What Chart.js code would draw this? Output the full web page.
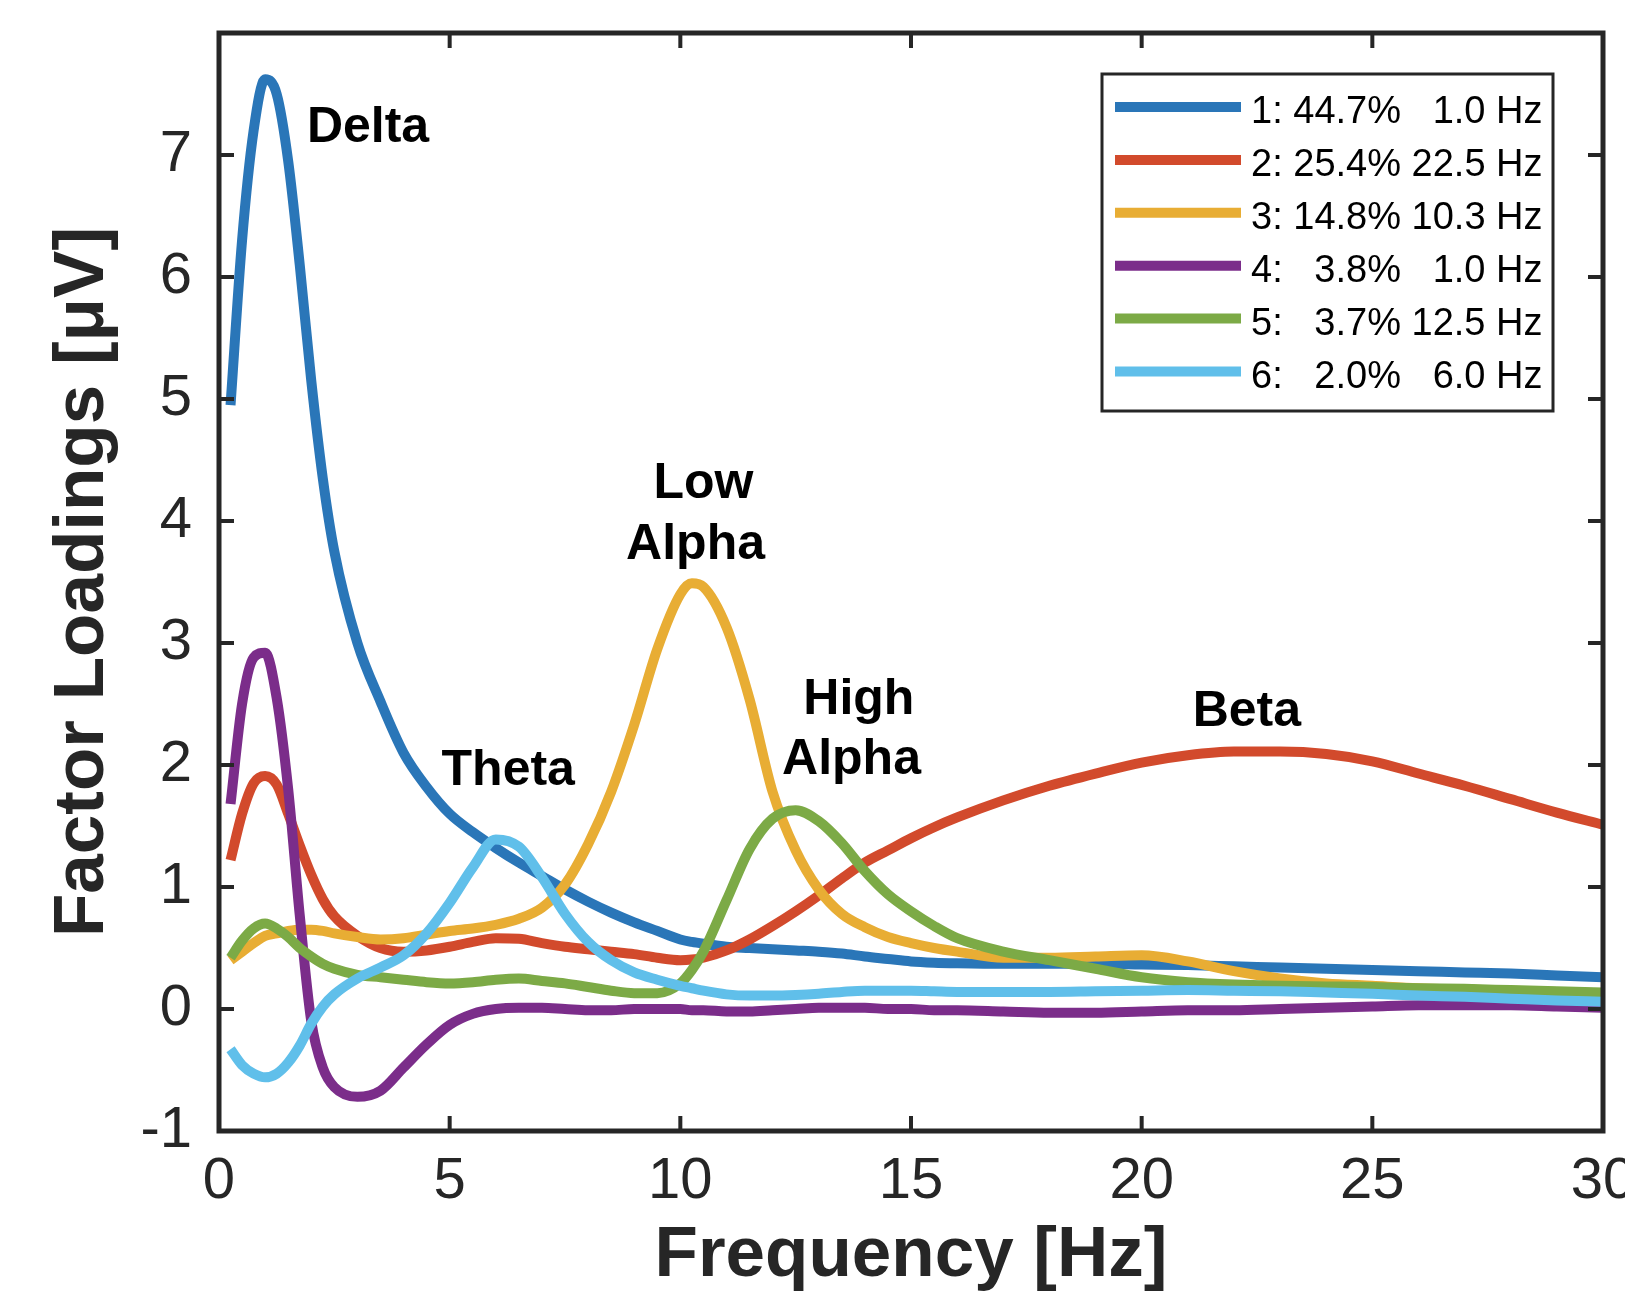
<!DOCTYPE html>
<html>
<head>
<meta charset="utf-8">
<script src="https://cdn.jsdelivr.net/npm/chart.js@4.4.0/dist/chart.umd.min.js"></script>
<style>
html, body { margin: 0; padding: 0; background: #fff; }
</style>
</head>
<body>
<canvas id="chart" width="1625" height="1304"></canvas>
<script>
// frequency grid (Hz), denser where the curves bend quickly
const freqs = [0.25, 0.5, 0.75, 1, 1.25, 1.5, 1.75, 2, 2.25, 2.5,
  3, 3.5, 4, 4.5, 5, 5.5, 6, 6.5, 7, 7.5, 8, 8.5, 9, 9.5, 10, 10.25,
  10.5, 11, 11.5, 12, 12.5, 13, 13.5, 14, 14.5, 15, 15.5, 16,
  17, 18, 19, 20, 21, 22, 23, 24, 25, 26, 27, 28, 29, 30]

const factor1 = [4.95, 6.3, 7.2, 7.62, 7.5, 6.95, 6.1, 5.15, 4.35, 3.75,
  3.0, 2.52, 2.1, 1.82, 1.6, 1.45, 1.32, 1.2, 1.09, 0.98, 0.88, 0.79, 0.71, 0.64, 0.57, 0.55,
  0.535, 0.51, 0.5, 0.49, 0.48, 0.47, 0.455, 0.43, 0.41, 0.39, 0.38, 0.375,
  0.37, 0.37, 0.37, 0.365, 0.36, 0.35, 0.34, 0.33, 0.32, 0.31, 0.3, 0.29, 0.275, 0.26]

const factor2 = [1.22, 1.6, 1.85, 1.91, 1.84, 1.6, 1.34, 1.1, 0.9, 0.76,
  0.6, 0.5, 0.47, 0.48, 0.51, 0.55, 0.58, 0.575, 0.54, 0.51, 0.49, 0.47, 0.45, 0.42, 0.4, 0.405,
  0.42, 0.48, 0.57, 0.68, 0.8, 0.93, 1.07, 1.2, 1.3, 1.4, 1.49, 1.57,
  1.71, 1.83, 1.93, 2.02, 2.08, 2.11, 2.11, 2.09, 2.03, 1.93, 1.83, 1.72, 1.61, 1.51]

const factor3 = [0.4, 0.47, 0.54, 0.6, 0.62, 0.64, 0.65, 0.65, 0.64, 0.62,
  0.59, 0.57, 0.58, 0.61, 0.64, 0.66, 0.69, 0.74, 0.83, 1.02, 1.35, 1.78, 2.33, 2.95, 3.4, 3.49,
  3.46, 3.13, 2.54, 1.78, 1.3, 0.98, 0.78, 0.67, 0.59, 0.54, 0.5, 0.47,
  0.42, 0.42, 0.43, 0.44, 0.39, 0.31, 0.25, 0.21, 0.19, 0.17, 0.16, 0.15, 0.14, 0.13]

const factor4 = [1.68, 2.5, 2.88, 2.92, 2.55, 1.8, 0.77, -0.1, -0.48, -0.64,
  -0.72, -0.67, -0.48, -0.29, -0.13, -0.04, 0.0, 0.01, 0.01, 0.0, -0.01, -0.01, 0.0, 0.0, 0.0, -0.01,
  -0.01, -0.02, -0.02, -0.01, 0.0, 0.01, 0.01, 0.01, 0.0, 0.0, -0.01, -0.01,
  -0.02, -0.03, -0.03, -0.02, -0.01, -0.01, 0.0, 0.01, 0.02, 0.03, 0.03, 0.03, 0.02, 0.01]

const factor5 = [0.42, 0.56, 0.66, 0.7, 0.66, 0.59, 0.5, 0.43, 0.37, 0.33,
  0.28, 0.26, 0.24, 0.22, 0.21, 0.22, 0.24, 0.25, 0.23, 0.21, 0.18, 0.15, 0.13, 0.13, 0.21, 0.32,
  0.47, 0.89, 1.31, 1.56, 1.63, 1.54, 1.36, 1.13, 0.94, 0.8, 0.68, 0.58,
  0.47, 0.4, 0.33, 0.26, 0.22, 0.2, 0.19, 0.185, 0.18, 0.17, 0.165, 0.155, 0.145, 0.135]

const factor6 = [-0.33, -0.46, -0.53, -0.56, -0.53, -0.44, -0.3, -0.12, 0.02, 0.12,
  0.25, 0.34, 0.44, 0.62, 0.87, 1.16, 1.39, 1.33, 1.08, 0.78, 0.55, 0.4, 0.3, 0.24, 0.19, 0.17,
  0.15, 0.12, 0.11, 0.11, 0.115, 0.125, 0.14, 0.15, 0.15, 0.15, 0.145, 0.14,
  0.14, 0.14, 0.145, 0.15, 0.155, 0.15, 0.145, 0.135, 0.125, 0.11, 0.1, 0.085, 0.07, 0.06]

const legendLabels = ['1: 44.7%   1.0 Hz', '2: 25.4% 22.5 Hz', '3: 14.8% 10.3 Hz',
  '4:   3.8%   1.0 Hz', '5:   3.7% 12.5 Hz', '6:   2.0%   6.0 Hz']
const colors = ['#2a76b8', '#d24a2c', '#e8ad34', '#7b2d8a', '#7caa46', '#60bfea']
const xTicks = [0, 5, 10, 15, 20, 25, 30]
const yTicks = [-1, 0, 1, 2, 3, 4, 5, 6, 7]

// band names, placed in data units (centre x, baseline y)
const bands = [
  {text: 'Delta', x: 3.23, y: 7.11},
  {text: 'Theta', x: 6.27, y: 1.84},
  {text: 'Low', x: 10.5, y: 4.19},
  {text: 'Alpha', x: 10.33, y: 3.69},
  {text: 'High', x: 13.87, y: 2.42},
  {text: 'Alpha', x: 13.71, y: 1.93},
  {text: 'Beta', x: 22.28, y: 2.32}
]

const family = '"Liberation Sans", Arial, Helvetica, sans-serif'
const axisColor = '#262626'

const series = [factor1, factor2, factor3, factor4, factor5, factor6]

const datasets = series.map((vals, i) => ({
  label: legendLabels[i],
  data: freqs.map((f, j) => ({x: f, y: vals[j]})),
  borderColor: colors[i],
  backgroundColor: colors[i],
  borderWidth: 10,
  pointRadius: 0,
  cubicInterpolationMode: 'monotone',
  borderJoinStyle: 'round',
  borderCapStyle: 'butt',
  order: series.length - i,
  clip: 0
}))

const frame = {
  id: 'frame',
  afterDatasetsDraw(chart) {
    const {ctx, chartArea: a, scales: {x, y}} = chart
    ctx.save()

    // inward ticks on all four sides
    ctx.strokeStyle = axisColor
    ctx.lineWidth = 4
    ctx.beginPath()
    xTicks.forEach(v => {
      const px = x.getPixelForValue(v)
      ctx.moveTo(px, a.bottom); ctx.lineTo(px, a.bottom - 15)
      ctx.moveTo(px, a.top); ctx.lineTo(px, a.top + 15)
    })
    yTicks.forEach(v => {
      const py = y.getPixelForValue(v)
      ctx.moveTo(a.left, py); ctx.lineTo(a.left + 15, py)
      ctx.moveTo(a.right, py); ctx.lineTo(a.right - 15, py)
    })
    ctx.stroke()
    ctx.lineWidth = 5
    ctx.strokeRect(a.left, a.top, a.right - a.left, a.bottom - a.top)

    // band names
    ctx.fillStyle = '#000'
    ctx.font = 'bold 50px ' + family
    ctx.textAlign = 'center'
    ctx.textBaseline = 'alphabetic'
    bands.forEach(b => ctx.fillText(b.text, x.getPixelForValue(b.x), y.getPixelForValue(b.y)))

    // legend box in the upper right corner
    const bw = 451, bh = 337
    const bx = a.right - 50 - bw, by = a.top + 41
    ctx.fillStyle = '#fff'
    ctx.fillRect(bx, by, bw, bh)
    ctx.lineWidth = 3
    ctx.strokeStyle = axisColor
    ctx.strokeRect(bx, by, bw, bh)
    ctx.font = '38px ' + family
    ctx.textAlign = 'left'
    chart.data.datasets.forEach((ds, i) => {
      const ry = by + 33 + i * 52.9
      ctx.strokeStyle = ds.borderColor
      ctx.lineWidth = 10
      ctx.beginPath()
      ctx.moveTo(bx + 13, ry); ctx.lineTo(bx + 139, ry)
      ctx.stroke()
      ctx.fillStyle = '#000'
      ctx.fillText(ds.label, bx + 149, ry + 16)
    })
    ctx.restore()
  }
}

new Chart(document.getElementById('chart'), {
  type: 'line',
  data: {datasets},
  options: {
    responsive: false,
    animation: false,
    devicePixelRatio: 1,
    layout: {padding: {top: 33, right: 22, bottom: 0, left: 0}},
    plugins: {legend: {display: false}, tooltip: {enabled: false}},
    scales: {
      x: {
        type: 'linear', min: 0, max: 30,
        afterBuildTicks: s => { s.ticks = xTicks.map(v => ({value: v})) },
        afterFit: s => { s.height = 173; s.paddingLeft = 0; s.paddingRight = 0 },
        grid: {display: false, drawTicks: false},
        border: {display: false},
        ticks: {color: axisColor, font: {size: 58, family}, padding: 16, maxRotation: 0, autoSkip: false},
        title: {display: true, text: 'Frequency [Hz]', color: axisColor,
          font: {size: 71, weight: 'bold', family}, padding: {top: 0, bottom: 5}}
      },
      y: {
        type: 'linear', min: -1, max: 8,
        afterBuildTicks: s => { s.ticks = yTicks.map(v => ({value: v})) },
        afterFit: s => { s.width = 219; s.paddingTop = 0; s.paddingBottom = 0 },
        grid: {display: false, drawTicks: false},
        border: {display: false},
        ticks: {color: axisColor, font: {size: 58, family}, padding: 27, autoSkip: false},
        title: {display: true, text: 'Factor Loadings [μV]', color: axisColor,
          font: {size: 71, weight: 'bold', family}, padding: {top: 41, bottom: 0}}
      }
    }
  },
  plugins: [frame]
})
</script>
</body>
</html>
